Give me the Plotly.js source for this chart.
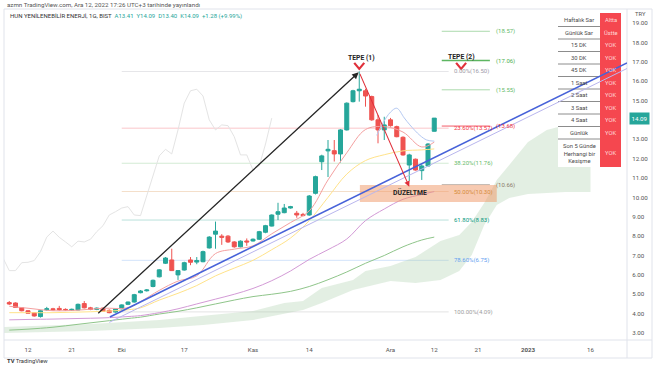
<!DOCTYPE html>
<html><head><meta charset="utf-8">
<script src="https://cdn.plot.ly/plotly-3.0.1.min.js"></script>
<style>html,body{margin:0;padding:0;background:#fff;}#c{width:654px;height:366px;}</style>
</head><body><div id="c"></div>
<script>
// ---------- DATA ----------
const firstIndex = -3; // trading-day index of first candle (0 = 12 Eylül 2022)
const openP  = [4.57,4.55,4.30,4.15,4.05,3.85,4.20,4.25,4.27,4.22,4.18,4.19,4.52,4.30,4.22,4.28,4.17,4.08,4.25,4.48,4.60,5.08,5.18,5.40,5.90,6.60,6.77,6.00,6.25,6.77,6.66,6.68,7.39,8.10,8.00,8.00,7.70,7.45,7.75,7.75,7.84,8.20,8.52,9.13,9.21,9.45,9.18,9.12,9.09,10.21,11.84,12.40,12.41,12.24,13.48,14.94,15.50,15.50,15.20,14.00,13.48,14.00,13.65,13.10,11.67,11.97,11.38,11.62,13.41];
const highP  = [4.65,4.58,4.33,4.18,4.08,4.20,4.35,4.30,4.40,4.27,4.26,4.52,4.65,4.35,4.32,4.32,4.22,4.28,4.48,4.62,5.02,5.22,5.27,5.76,6.30,6.92,7.35,6.25,6.68,6.92,6.92,7.25,8.00,8.75,8.10,8.05,7.74,7.78,7.88,7.88,8.27,8.58,9.12,9.72,9.66,9.56,9.30,9.20,10.12,11.12,12.20,12.96,12.96,13.52,14.90,15.55,16.50,15.60,15.25,14.25,14.16,14.10,13.70,13.15,12.25,12.00,11.70,12.80,14.09];
const lowP   = [4.45,4.30,4.12,4.00,3.85,3.80,4.15,4.15,4.15,4.16,4.15,4.17,4.27,4.18,4.18,4.10,4.02,4.05,4.22,4.44,4.57,5.05,5.14,5.36,5.87,6.56,6.20,5.74,6.22,6.50,6.55,6.65,7.36,7.35,7.55,7.65,7.40,7.42,7.50,7.72,7.80,8.15,8.50,8.83,9.18,9.42,8.95,9.02,9.05,10.15,11.41,11.05,11.85,11.80,13.45,14.90,14.94,14.68,13.95,12.79,12.96,13.65,13.10,12.15,10.85,11.38,10.90,11.60,13.40];
const closeP = [4.50,4.32,4.15,4.02,3.88,4.15,4.25,4.20,4.20,4.20,4.22,4.48,4.30,4.22,4.28,4.12,4.05,4.25,4.45,4.60,4.98,5.17,5.22,5.72,6.26,6.87,6.22,6.22,6.63,6.65,6.74,7.20,7.95,8.26,7.94,7.70,7.45,7.74,7.70,7.84,8.23,8.54,9.09,9.26,9.45,9.52,9.09,9.06,10.07,11.07,12.14,12.48,12.24,13.48,14.86,15.50,15.58,15.23,14.00,13.48,13.74,13.70,13.13,12.19,12.19,11.41,11.62,12.75,14.09];

const maIdx    = [-3,0,4,8,12,16,18,21,24,27,30,33,36,39,42,45,48,51,54,57,60,63,65];
const maPink   = [4.38,4.28,4.15,4.18,4.28,4.30,4.62,5.20,5.68,5.95,7.10,7.33,7.50,8.12,8.70,9.30,10.90,12.30,13.50,13.65,13.37,12.60,12.85];
const maYellow = [4.05,4.05,4.05,4.08,4.12,4.20,4.30,4.70,5.05,5.45,5.95,6.35,6.75,7.30,7.90,8.80,10.00,11.20,11.90,12.20,12.40,12.45,12.50];
const maPurple = [3.68,3.70,3.72,3.75,3.78,3.85,3.90,4.05,4.25,4.50,4.75,5.00,5.30,5.70,6.20,6.80,7.30,7.85,8.80,9.40,9.90,10.15,10.30];
const maGreen  = [3.15,3.20,3.30,3.45,3.60,3.75,3.82,3.98,4.12,4.30,4.50,4.70,4.88,5.00,5.15,5.40,5.75,6.15,6.60,7.00,7.45,7.80,7.95];

const bandIdx = [55.8,56.8,58,59,60.2,61.1,62.7,63.8,65];
const bandUp  = [13.2,13.84,14.4,14.6,14.1,13.74,13.2,12.96,12.9];

const cloudIdx = [-4,10,21,28,36,41,44,47,52,54,58,62,66,69,71,73,75,77,80,83,86,90];
const cloudTop = [3.31,3.46,3.67,3.88,4.14,4.55,4.65,5.32,5.74,6.2,6.46,6.92,7.75,8.06,8.73,9.71,10.9,11.67,12.86,13.48,13.74,14.0];
const cloudBot = [3.0,3.10,3.26,3.41,3.67,3.98,4.19,4.55,5.22,5.37,5.68,5.58,5.74,6.2,7.03,8.57,9.61,9.97,10.17,10.23,10.28,10.28];
const chikouShift = 26;

const fibPct    = ["0.00%","23.60%","38.20%","50.00%","61.80%","78.60%","100.00%"];
const fibVal    = [16.50,13.57,11.76,10.30,8.83,6.75,4.09];
const fibColor  = ["#9e9aa8","#f23645","#66bb6a","#d68a3a","#089981","#64a0f0","#9e9e9e"];
const extVal    = [18.57,17.06,15.55,13.68,10.66];
const extColor  = ["#66bb6a","#4caf50","#66bb6a","#f23645","#8d7b6a"];

const tickIdx  = [0,7,15,25,36,45,58,65,72,80,90];
const tickText = ["12","21","Eki","17","Kas","14","Ara","12","21","<b>2023</b>","16"];
const yTicks   = [3,4,5,6,7,8,9,10,11,12,13,15,16,17,18,19];

const tableLeft  = ["Haftalık Sar","Günlük Sar","15 DK","30 DK","45 DK","1 Saat","2 Saat","3 Saat","4 Saat","Günlük","Son 5 Günde<br>Herhangi bir<br>Kesişme"];
const tableRight = ["Altta","Üstte","YOK","YOK","YOK","YOK","YOK","YOK","YOK","YOK","YOK"];

const peak1 = {i:53, p:16.50}, peak2x = 69.3, trough = {i:61, p:10.55};
const trendStart = {i:13.1, p:3.83}, trendEnd = {i:95.84, p:16.94};
const chanStart = {i:13.0, p:3.55}, chanEnd = {i:95.84, p:16.65};
const arrowStart = {i:11, p:3.95};
const zoneX = [53.1, 75.0], zoneY = [9.76, 10.64];

// ---------- BUILD ----------
const idx = openP.map((_, k) => firstIndex + k);
const chX = [], chY = [];
idx.forEach((v, k) => { if (v - chikouShift >= -4) { chX.push(v - chikouShift); chY.push(closeP[k]); } });

const W = 654, H = 366, L = 4, R = 27, T = 9, B = 26;
const pw = W - L - R, ph = H - T - B;
const px = x => (x - L) / pw;
const py = y => (H - B - y) / ph;

const F = "Roboto, 'Liberation Sans', Arial, sans-serif";
const traces = [];
traces.push({x: cloudIdx, y: cloudBot, mode: 'lines', line: {width: 0}, hoverinfo: 'skip', showlegend: false});
traces.push({x: cloudIdx, y: cloudTop, mode: 'lines', line: {width: 0}, fill: 'tonexty', fillcolor: 'rgba(170,205,170,0.33)', hoverinfo: 'skip', showlegend: false});
traces.push({x: maIdx, y: maGreen, mode: 'lines', line: {color: '#8fc58a', width: 1, shape: 'spline'}, showlegend: false});
traces.push({x: maIdx, y: maPurple, mode: 'lines', line: {color: '#d39ad6', width: 1, shape: 'spline'}, showlegend: false});
traces.push({x: maIdx, y: maYellow, mode: 'lines', line: {color: '#ffe38a', width: 1, shape: 'spline'}, showlegend: false});
traces.push({x: chX, y: chY, mode: 'lines', line: {color: '#e4e4e4', width: 1}, showlegend: false});
traces.push({x: maIdx, y: maPink, mode: 'lines', line: {color: '#f4a0a0', width: 1, shape: 'spline'}, showlegend: false});
traces.push({x: bandIdx, y: bandUp, mode: 'lines', line: {color: '#b3c8f2', width: 1, shape: 'spline'}, showlegend: false});
traces.push({type: 'candlestick', x: idx, open: openP, high: highP, low: lowP, close: closeP,
  increasing: {line: {color: '#26a69a', width: 1}, fillcolor: '#26a69a'},
  decreasing: {line: {color: '#ef5350', width: 1}, fillcolor: '#ef5350'},
  whiskerwidth: 0, showlegend: false, hoverinfo: 'skip'});
// chevrons
[[peak1.i, 16.94, 16.63],[peak2x, 16.94, 16.63]].forEach(c => {
  traces.push({x: [c[0]-0.8, c[0], c[0]+0.8], y: [c[1], c[2], c[1]], mode: 'lines', line: {color: '#e0303a', width: 2.2}, showlegend: false, hoverinfo: 'skip'});
});

const shapes = [];
const anns = [];
// fib lines
fibVal.forEach((v, k) => {
  shapes.push({type: 'line', xref: 'x', yref: 'y', x0: 15, x1: 67.3, y0: v, y1: v, layer: 'below', line: {color: fibColor[k], width: 0.8}, opacity: 0.35});
  anns.push({xref: 'x', yref: 'y', x: 67.8, y: v, xanchor: 'left', yanchor: 'middle', showarrow: false, text: fibPct[k] + '(' + v.toFixed(2) + ')', font: {family: F, size: 6, color: fibColor[k]}});
});
extVal.forEach((v, k) => {
  shapes.push({type: 'line', xref: 'x', yref: 'y', x0: 66.2, x1: 73.9, y0: v, y1: v, layer: 'below', line: {color: extColor[k], width: k === 1 ? 1.5 : 0.9}, opacity: k === 1 || k === 3 ? 0.9 : 0.6});
  anns.push({xref: 'x', yref: 'y', x: 74.5, y: v, xanchor: 'left', yanchor: 'middle', showarrow: false, text: '(' + v.toFixed(2) + ')', font: {family: F, size: 6, color: extColor[k]}});
});
// correction zone
shapes.push({type: 'rect', xref: 'x', yref: 'y', x0: zoneX[0], x1: zoneX[1], y0: zoneY[0], y1: zoneY[1], layer: 'above', fillcolor: 'rgba(240,150,100,0.5)', line: {width: 0}});
// frame
shapes.push({type: 'rect', xref: 'paper', yref: 'paper', x0: px(4), x1: px(652), y0: py(358), y1: py(9), line: {color: '#e0e3eb', width: 1}, layer: 'above'});
shapes.push({type: 'line', xref: 'paper', yref: 'paper', x0: px(627), x1: px(627), y0: py(358), y1: py(9), line: {color: '#e0e3eb', width: 1}});
shapes.push({type: 'line', xref: 'paper', yref: 'paper', x0: px(4), x1: px(652), y0: py(340), y1: py(340), line: {color: '#e0e3eb', width: 1}});
// table
const rowB = [13, 26.5, 39, 51.5, 64, 76.5, 89, 101.5, 114, 126.5, 139, 167];
shapes.push({type: 'rect', xref: 'paper', yref: 'paper', x0: px(558), x1: px(600), y0: py(167), y1: py(13), fillcolor: '#ffffff', line: {width: 0}, layer: 'above'});
shapes.push({type: 'rect', xref: 'paper', yref: 'paper', x0: px(600), x1: px(621), y0: py(167), y1: py(13), fillcolor: '#f5474f', line: {width: 0}, layer: 'above'});
rowB.slice(1, -1).forEach(y => {
  shapes.push({type: 'line', xref: 'paper', yref: 'paper', x0: px(558), x1: px(600), y0: py(y), y1: py(y), line: {color: '#6f6f6f', width: 0.8}, layer: 'above'});
});
tableLeft.forEach((t, k) => {
  const yc = (rowB[k] + rowB[k+1]) / 2;
  anns.push({xref: 'paper', yref: 'paper', x: px(579), y: py(yc), xanchor: 'center', yanchor: 'middle', showarrow: false, text: t, align: 'center', font: {family: F, size: 5.8, color: '#4a4a4a'}});
  anns.push({xref: 'paper', yref: 'paper', x: px(610.5), y: py(yc), xanchor: 'center', yanchor: 'middle', showarrow: false, text: tableRight[k], font: {family: F, size: 5.8, color: '#ffd9d9'}});
});
// trendlines (over table)
shapes.push({type: 'line', xref: 'x', yref: 'y', x0: chanStart.i, y0: chanStart.p, x1: chanEnd.i, y1: chanEnd.p, line: {color: '#b9b6ee', width: 1}, layer: 'above'});
shapes.push({type: 'line', xref: 'x', yref: 'y', x0: trendStart.i, y0: trendStart.p, x1: trendEnd.i, y1: trendEnd.p, line: {color: '#4762d9', width: 1.6}, layer: 'above'});
// arrows
anns.push({xref: 'x', yref: 'y', axref: 'x', ayref: 'y', x: peak1.i - 0.1, y: peak1.p - 0.05, ax: arrowStart.i, ay: arrowStart.p, showarrow: true, arrowhead: 2, arrowsize: 1, arrowwidth: 1.3, arrowcolor: '#262626', text: ''});
anns.push({xref: 'x', yref: 'y', axref: 'x', ayref: 'y', x: trough.i, y: trough.p, ax: peak1.i, ay: peak1.p - 0.05, showarrow: true, arrowhead: 2, arrowsize: 1, arrowwidth: 1.1, arrowcolor: '#e0303a', text: ''});
// labels
anns.push({xref: 'x', yref: 'y', x: peak1.i + 0.3, y: 17.19, showarrow: false, text: '<b>TEPE (1)</b>', font: {family: F, size: 6.8, color: '#222'}});
anns.push({xref: 'x', yref: 'y', x: peak2x, y: 17.25, showarrow: false, text: '<b>TEPE (2)</b>', font: {family: F, size: 6.8, color: '#222'}});
anns.push({xref: 'x', yref: 'y', x: 61.1, y: 10.23, showarrow: false, text: '<b>DÜZELTME</b>', font: {family: F, size: 6.8, color: '#222'}});
// header texts
anns.push({xref: 'paper', yref: 'paper', x: px(5), y: py(5), xanchor: 'left', yanchor: 'middle', showarrow: false, text: 'azmn TradingView.com, Ara 12, 2022 17:26 UTC+3 tarihinde yayınlandı', font: {family: F, size: 6.2, color: '#555'}});
anns.push({xref: 'paper', yref: 'paper', x: px(8), y: py(16), xanchor: 'left', yanchor: 'middle', showarrow: false, text: 'HUN YENİLENEBİLİR ENERJİ, 1G, BIST  <span style="color:#26a69a">A13.41  Y14.09  D13.40  K14.09  +1.28 (+9.99%)</span>', font: {family: F, size: 6, color: '#333'}});
anns.push({xref: 'paper', yref: 'paper', x: px(5), y: py(361), xanchor: 'left', yanchor: 'middle', showarrow: false, text: '<b>TV</b> TradingView', font: {family: F, size: 5.8, color: '#333'}});
anns.push({xref: 'paper', yref: 'paper', x: px(633), y: py(14), xanchor: 'left', yanchor: 'middle', showarrow: false, text: 'TRY', font: {family: F, size: 5.8, color: '#555'}});
anns.push({xref: 'paper', yref: 'y', x: px(629), y: closeP[closeP.length-1], xanchor: 'left', yanchor: 'middle', showarrow: false, text: closeP[closeP.length-1].toFixed(2), bgcolor: '#26a69a', borderpad: 1.5, font: {family: F, size: 6.2, color: '#fff'}});

const layout = {
  width: W, height: H,
  margin: {l: L, r: R, t: T, b: B, pad: 0},
  paper_bgcolor: '#fff', plot_bgcolor: '#fff',
  showlegend: false,
  boxgap: 0.2, boxgroupgap: 0.2,
  xaxis: {type: 'linear', range: [-3.84, 95.84], showgrid: false, zeroline: false, showline: false,
    tickmode: 'array', tickvals: tickIdx, ticktext: tickText, ticks: 'outside', ticklen: 4, tickcolor: 'rgba(0,0,0,0)',
    tickfont: {family: F, size: 6.2, color: '#555'}, rangeslider: {visible: false}, fixedrange: true},
  yaxis: {range: [2.64, 19.72], side: 'right', showgrid: false, zeroline: false, showline: false,
    tickmode: 'array', tickvals: yTicks, ticktext: yTicks.map(v => v.toFixed(2)), ticks: 'outside', ticklen: 3, tickcolor: 'rgba(0,0,0,0)',
    tickfont: {family: F, size: 6.2, color: '#555'}, fixedrange: true},
  shapes: shapes, annotations: anns
};
Plotly.newPlot('c', traces, layout, {staticPlot: true, displayModeBar: false});
</script></body></html>
